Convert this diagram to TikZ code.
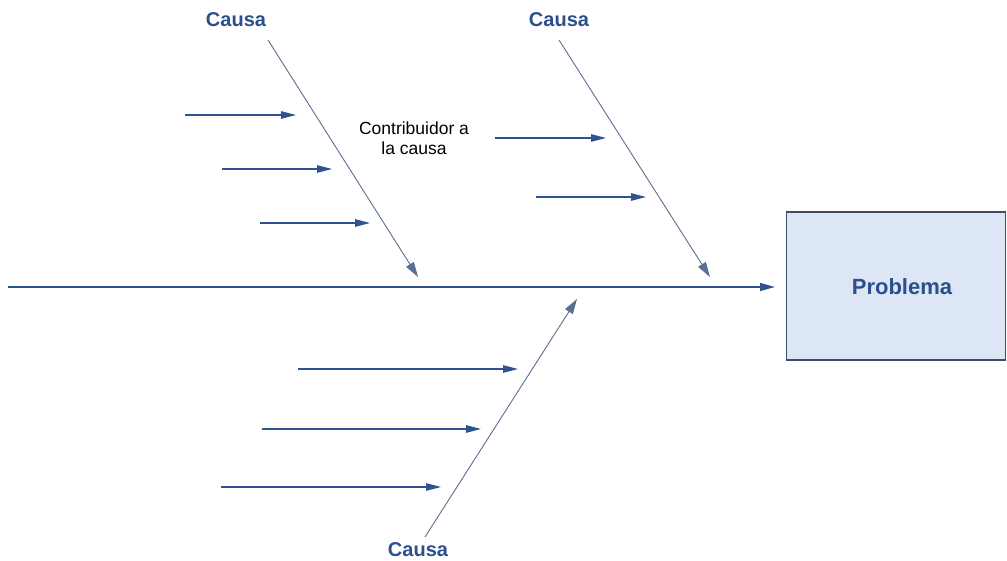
\documentclass[tikz,border=0pt]{standalone}
\usepackage{fontspec}
\setmainfont{Liberation Sans}
\usetikzlibrary{arrows.meta}
\definecolor{spineblue}{HTML}{2E5390}
\definecolor{bonegray}{HTML}{5A6E94}
\definecolor{labelblue}{HTML}{2B4F8C}
\definecolor{boxfill}{HTML}{DCE6F4}
\definecolor{boxline}{HTML}{3E4C66}
\tikzset{
  spine/.style={draw=spineblue, line width=1.6pt, -{Triangle[length=15pt,width=8pt]}},
  bone/.style={draw=bonegray, line width=0.9pt, -{Triangle[length=15pt,width=9pt]}, color=bonegray},
  sub/.style={draw=spineblue, line width=1.1pt, -{Triangle[length=15pt,width=7.5pt]}},
  cause/.style={font=\fontsize{20}{24}\selectfont\bfseries, text=labelblue, inner sep=0pt},
  problem/.style={draw=boxline, fill=boxfill, line width=1.2pt, minimum width=219pt, minimum height=148pt, inner sep=0pt, font=\fontsize{22}{26}\selectfont\bfseries, text=labelblue},
  note/.style={font=\fontsize{17.5}{20.5}\selectfont, align=center, inner sep=0pt}
}
\begin{document}
\begin{tikzpicture}[x=1pt,y=-1pt]
\useasboundingbox (0,0) rectangle (1007,561);
% effect box
\node[problem] (prob) at (896,286) {};
\node[font=\fontsize{22}{26}\selectfont\bfseries, text=labelblue, inner sep=0pt] (probtext) at (902,287) {Problema};
% spine
\coordinate (tail) at (8,287);
\coordinate (head) at (775,287);
\draw[spine] (tail) -- (head);
% main causes
\node[cause] (c1) at (236,20) {Causa};
\node[cause] (c2) at (559,20) {Causa};
\node[cause] (c3) at (418,550) {Causa};
\coordinate (b1s) at (268,40);  \coordinate (b1e) at (418,277);
\coordinate (b2s) at (559,40);  \coordinate (b2e) at (710,277);
\coordinate (b3s) at (425,537); \coordinate (b3e) at (577,299);
\draw[bone] (b1s) -- (b1e);
\draw[bone] (b2s) -- (b2e);
\draw[bone] (b3s) -- (b3e);
% contributors
\node[note] (contrib) at (414,138) {Contribuidor a\\la causa};
\coordinate (s1a) at (185,115); \coordinate (s1b) at (296,115);
\coordinate (s2a) at (222,169); \coordinate (s2b) at (332,169);
\coordinate (s3a) at (260,223); \coordinate (s3b) at (370,223);
\coordinate (s4a) at (495,138); \coordinate (s4b) at (606,138);
\coordinate (s5a) at (536,197); \coordinate (s5b) at (646,197);
\coordinate (s6a) at (298,369); \coordinate (s6b) at (518,369);
\coordinate (s7a) at (262,429); \coordinate (s7b) at (481,429);
\coordinate (s8a) at (221,487); \coordinate (s8b) at (441,487);
\foreach \i in {1,...,8} \draw[sub] (s\i a) -- (s\i b);
\end{tikzpicture}
\end{document}
